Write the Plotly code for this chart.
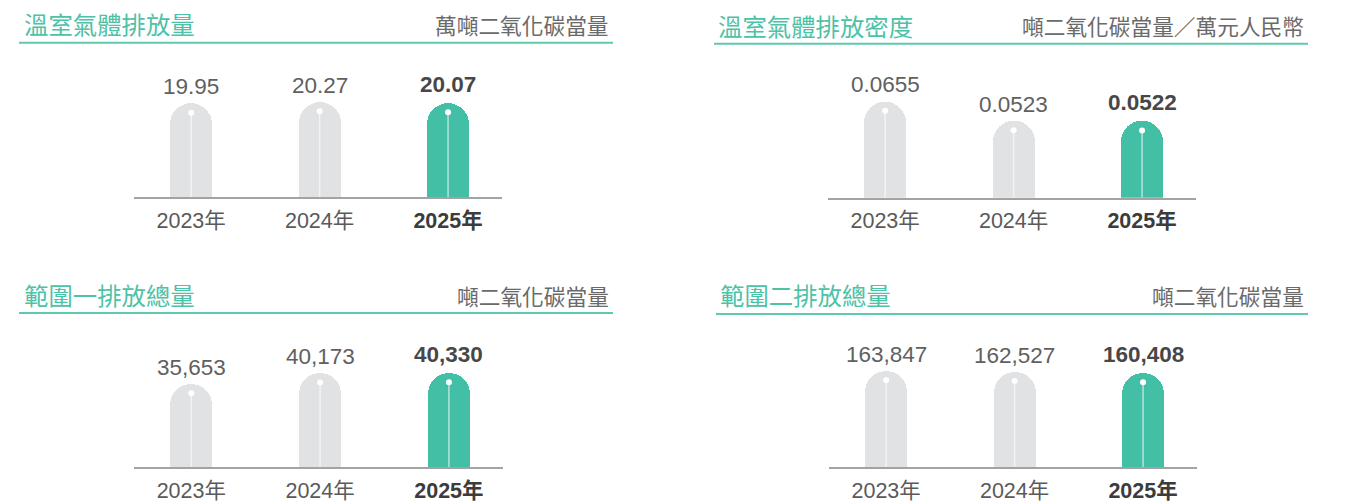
import plotly.graph_objects as go

# ---------------- data ----------------
years = ["2023年", "2024年", "2025年"]
titles = ["溫室氣體排放量", "溫室氣體排放密度", "範圍一排放總量", "範圍二排放總量"]
units = ["萬噸二氧化碳當量", "噸二氧化碳當量／萬元人民幣", "噸二氧化碳當量", "噸二氧化碳當量"]
ghg_total = [19.95, 20.27, 20.07]
ghg_intensity = [0.0655, 0.0523, 0.0522]
scope1_total = [35653, 40173, 40330]
scope2_total = [163847, 162527, 160408]
series = [ghg_total, ghg_intensity, scope1_total, scope2_total]
label_formats = ["{:.2f}", "{:.4f}", "{:,.0f}", "{:,.0f}"]

# ---------------- style ----------------
W, H = 1354, 503
PAGE_OFF = 0  # body margin removed via post_script
GREEN = "#42bfa5"
TITLE_GREEN = "#4cc2a7"
LINE_GREEN = "#5dcab0"
GREY_BAR = "#e1e2e4"
NUM_FONT = "Liberation Sans, Arial, Noto Sans CJK TC, sans-serif"
CJK_FONT = "Noto Sans CJK TC, sans-serif"

panels = [
    dict(x0=134, x1=502, base=198.5, hmax=96, tx=22, ty=24, ux=611, uy=25, ly=43, lx0=19, lx1=613),
    dict(x0=828, x1=1196, base=199, hmax=97, tx=716, ty=26, ux=1306, uy=26, ly=44, lx0=714, lx1=1308),
    dict(x0=134, x1=503, base=470, hmax=95, tx=22, ty=296, ux=611, uy=297, ly=315, lx0=19, lx1=613),
    dict(x0=829, x1=1197, base=470, hmax=97, tx=718, ty=296, ux=1306, uy=297, ly=316, lx0=716, lx1=1308),
]
DOM_H = 140  # px height of each plotting area
XR = [-0.445, 2.42]
BAR_W = 0.328


def fx(x):
    return (x - PAGE_OFF) / W


def fy(y):
    return 1 - (y - PAGE_OFF) / H


fig = go.Figure()
annotations = []
shapes = []
layout_axes = {}

for i, (vals, p) in enumerate(zip(series, panels)):
    n = "" if i == 0 else str(i + 1)
    xa, ya = "x" + n, "y" + n
    R = max(vals) * DOM_H / p["hmax"]
    colors = [GREY_BAR, GREY_BAR, GREEN]

    fig.add_trace(go.Bar(
        x=years, y=vals, xaxis=xa, yaxis=ya, width=BAR_W,
        marker=dict(color=colors, line=dict(width=0), cornerradius="50%"),
        hoverinfo="skip", showlegend=False,
    ))
    off = 9.5 * R / DOM_H
    dot_y = [v - off for v in vals]
    fig.add_trace(go.Scatter(
        x=years, y=dot_y, xaxis=xa, yaxis=ya, mode="markers",
        marker=dict(color="white", size=6, line=dict(width=0)),
        error_y=dict(type="data", symmetric=False, array=[0] * len(vals),
                     arrayminus=dot_y, width=0, thickness=1.5,
                     color="rgba(255,255,255,0.6)"),
        hoverinfo="skip", showlegend=False,
    ))

    ticktext = [y if j < len(years) - 1 else
                "<span style='color:#3c3c3c'><b>%s</b></span>" % y
                for j, y in enumerate(years)]
    layout_axes["xaxis" + n] = dict(
        domain=[fx(p["x0"]), fx(p["x1"])], anchor=ya, range=XR,
        type="category", showline=True, linecolor="#a3a3a3", linewidth=1.5,
        showgrid=False, zeroline=False, ticks="outside", ticklen=3,
        tickcolor="rgba(0,0,0,0)", tickvals=years, ticktext=ticktext,
        tickfont=dict(family=NUM_FONT, size=21.5, color="#5a5a5a"),
        fixedrange=True,
    )
    layout_axes["yaxis" + n] = dict(
        domain=[fy(p["base"]), fy(p["base"] - DOM_H)], anchor=xa,
        range=[0, R], visible=False, showgrid=False, zeroline=False,
        fixedrange=True,
    )

    for j, (yr, v) in enumerate(zip(years, vals)):
        bold = j == len(years) - 1
        txt = label_formats[i].format(v)
        annotations.append(dict(
            x=yr, y=v, xref=xa, yref=ya, yanchor="bottom", xanchor="center",
            text="<b>%s</b>" % txt if bold else txt, showarrow=False,
            yshift=4 if bold else 2,
            font=dict(family=NUM_FONT, size=22.5,
                      color="#474747" if bold else "#606060"),
        ))

    annotations.append(dict(
        x=fx(p["tx"]), y=fy(p["ty"]), xref="paper", yref="paper",
        xanchor="left", yanchor="middle", text=titles[i], showarrow=False,
        font=dict(family=CJK_FONT, size=24.4, color=TITLE_GREEN),
    ))
    annotations.append(dict(
        x=fx(p["ux"]), y=fy(p["uy"]), xref="paper", yref="paper",
        xanchor="right", yanchor="middle", text=units[i], showarrow=False,
        font=dict(family=CJK_FONT, size=21.7, color="#6a6a6a"),
    ))
    shapes.append(dict(
        type="line", xref="paper", yref="paper",
        x0=fx(p["lx0"]), x1=fx(p["lx1"]), y0=fy(p["ly"]), y1=fy(p["ly"]),
        line=dict(color=LINE_GREEN, width=2),
    ))

fig.update_layout(
    width=W, height=H, margin=dict(l=0, r=0, t=0, b=0),
    paper_bgcolor="white", plot_bgcolor="white",
    annotations=annotations, shapes=shapes, bargap=0,
    **layout_axes,
)

fig.write_html(
    "out.html",
    config={"displayModeBar": False},
    post_script="document.body.style.margin='0';document.body.style.overflow='hidden';",
)
